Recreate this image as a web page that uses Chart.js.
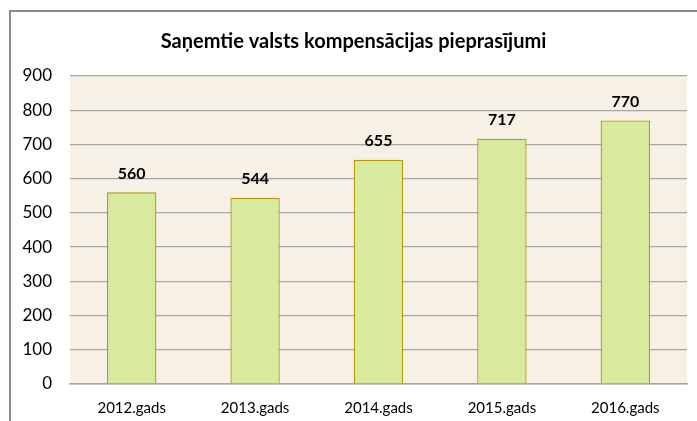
<!DOCTYPE html>
<html>
<head>
<meta charset="utf-8">
<script src="https://cdn.jsdelivr.net/npm/chart.js@4/dist/chart.umd.min.js"></script>
<style>
  html, body { margin: 0; padding: 0; background: #fff; }
  #frame {
    position: absolute; left: 9px; top: 10px;
    width: 720px; height: 440px;
    border: 2px solid #8c8c8c;
  }
  #wrap { position: absolute; left: 0; top: 0; width: 697px; height: 421px; }
</style>
</head>
<body>
<div id="frame"></div>
<div id="wrap"><canvas id="chart" width="697" height="421"></canvas></div>
<script>
const titleText = 'Saņemtie valsts kompensācijas pieprasījumi';
const years = ['2012.gads', '2013.gads', '2014.gads', '2015.gads', '2016.gads'];
const requests = [560, 544, 655, 717, 770];
const yTicks = [0, 100, 200, 300, 400, 500, 600, 700, 800, 900];

const fontFamily = 'Lato, "Open Sans", sans-serif';

// fons zīmēšanas laukumam
const plotBackground = {
    id: 'plotBackground',
    beforeDraw(chart) {
        const { ctx, chartArea: a } = chart;
        ctx.save();
        ctx.fillStyle = '#f7f0e5';
        ctx.fillRect(a.left, a.top, a.right - a.left, a.bottom - a.top);
        ctx.restore();
    }
};

// vērtības virs stabiņiem
const valueLabels = {
    id: 'valueLabels',
    afterDatasetsDraw(chart) {
        const ctx = chart.ctx;
        const meta = chart.getDatasetMeta(0);
        ctx.save();
        ctx.font = 'bold 16px ' + fontFamily;
        ctx.fillStyle = '#000';
        ctx.textAlign = 'center';
        ctx.textBaseline = 'middle';
        meta.data.forEach((bar, i) => {
            ctx.fillText(requests[i], bar.x, bar.y - 19);
        });
        ctx.restore();
    }
};

new Chart(document.getElementById('chart').getContext('2d'), {
    type: 'bar',
    data: {
        labels: years,
        datasets: [{
            data: requests,
            backgroundColor: '#d8ea9e',
            borderColor: '#b8960f',
            borderWidth: 1.3,
            categoryPercentage: 1,
            barPercentage: 0.4
        }]
    },
    options: {
        responsive: false,
        animation: false,
        layout: { padding: { left: 20, right: 10, top: 0, bottom: 0 } },
        plugins: {
            legend: { display: false },
            tooltip: { enabled: false },
            title: {
                display: true,
                text: titleText,
                color: '#000',
                font: { family: fontFamily, size: 20, weight: 'bold' },
                padding: { top: 30, bottom: 22 }
            }
        },
        scales: {
            x: {
                afterFit(scale) { scale.height = 37; },
                grid: { display: false, drawTicks: false },
                border: { color: '#a6a6a6', width: 1.5 },
                ticks: {
                    color: '#000',
                    font: { family: fontFamily, size: 15 },
                    padding: 15,
                    maxRotation: 0
                }
            },
            y: {
                min: 0,
                max: 900,
                afterBuildTicks(scale) {
                    scale.ticks = yTicks.map(v => ({ value: v }));
                },
                afterFit(scale) { scale.width = 50; },
                grid: { color: '#a6a6a6', lineWidth: 1.3, drawTicks: false },
                border: { display: false },
                ticks: {
                    color: '#000',
                    font: { family: fontFamily, size: 17 },
                    padding: 18
                }
            }
        }
    },
    plugins: [plotBackground, valueLabels]
});
</script>
</body>
</html>
